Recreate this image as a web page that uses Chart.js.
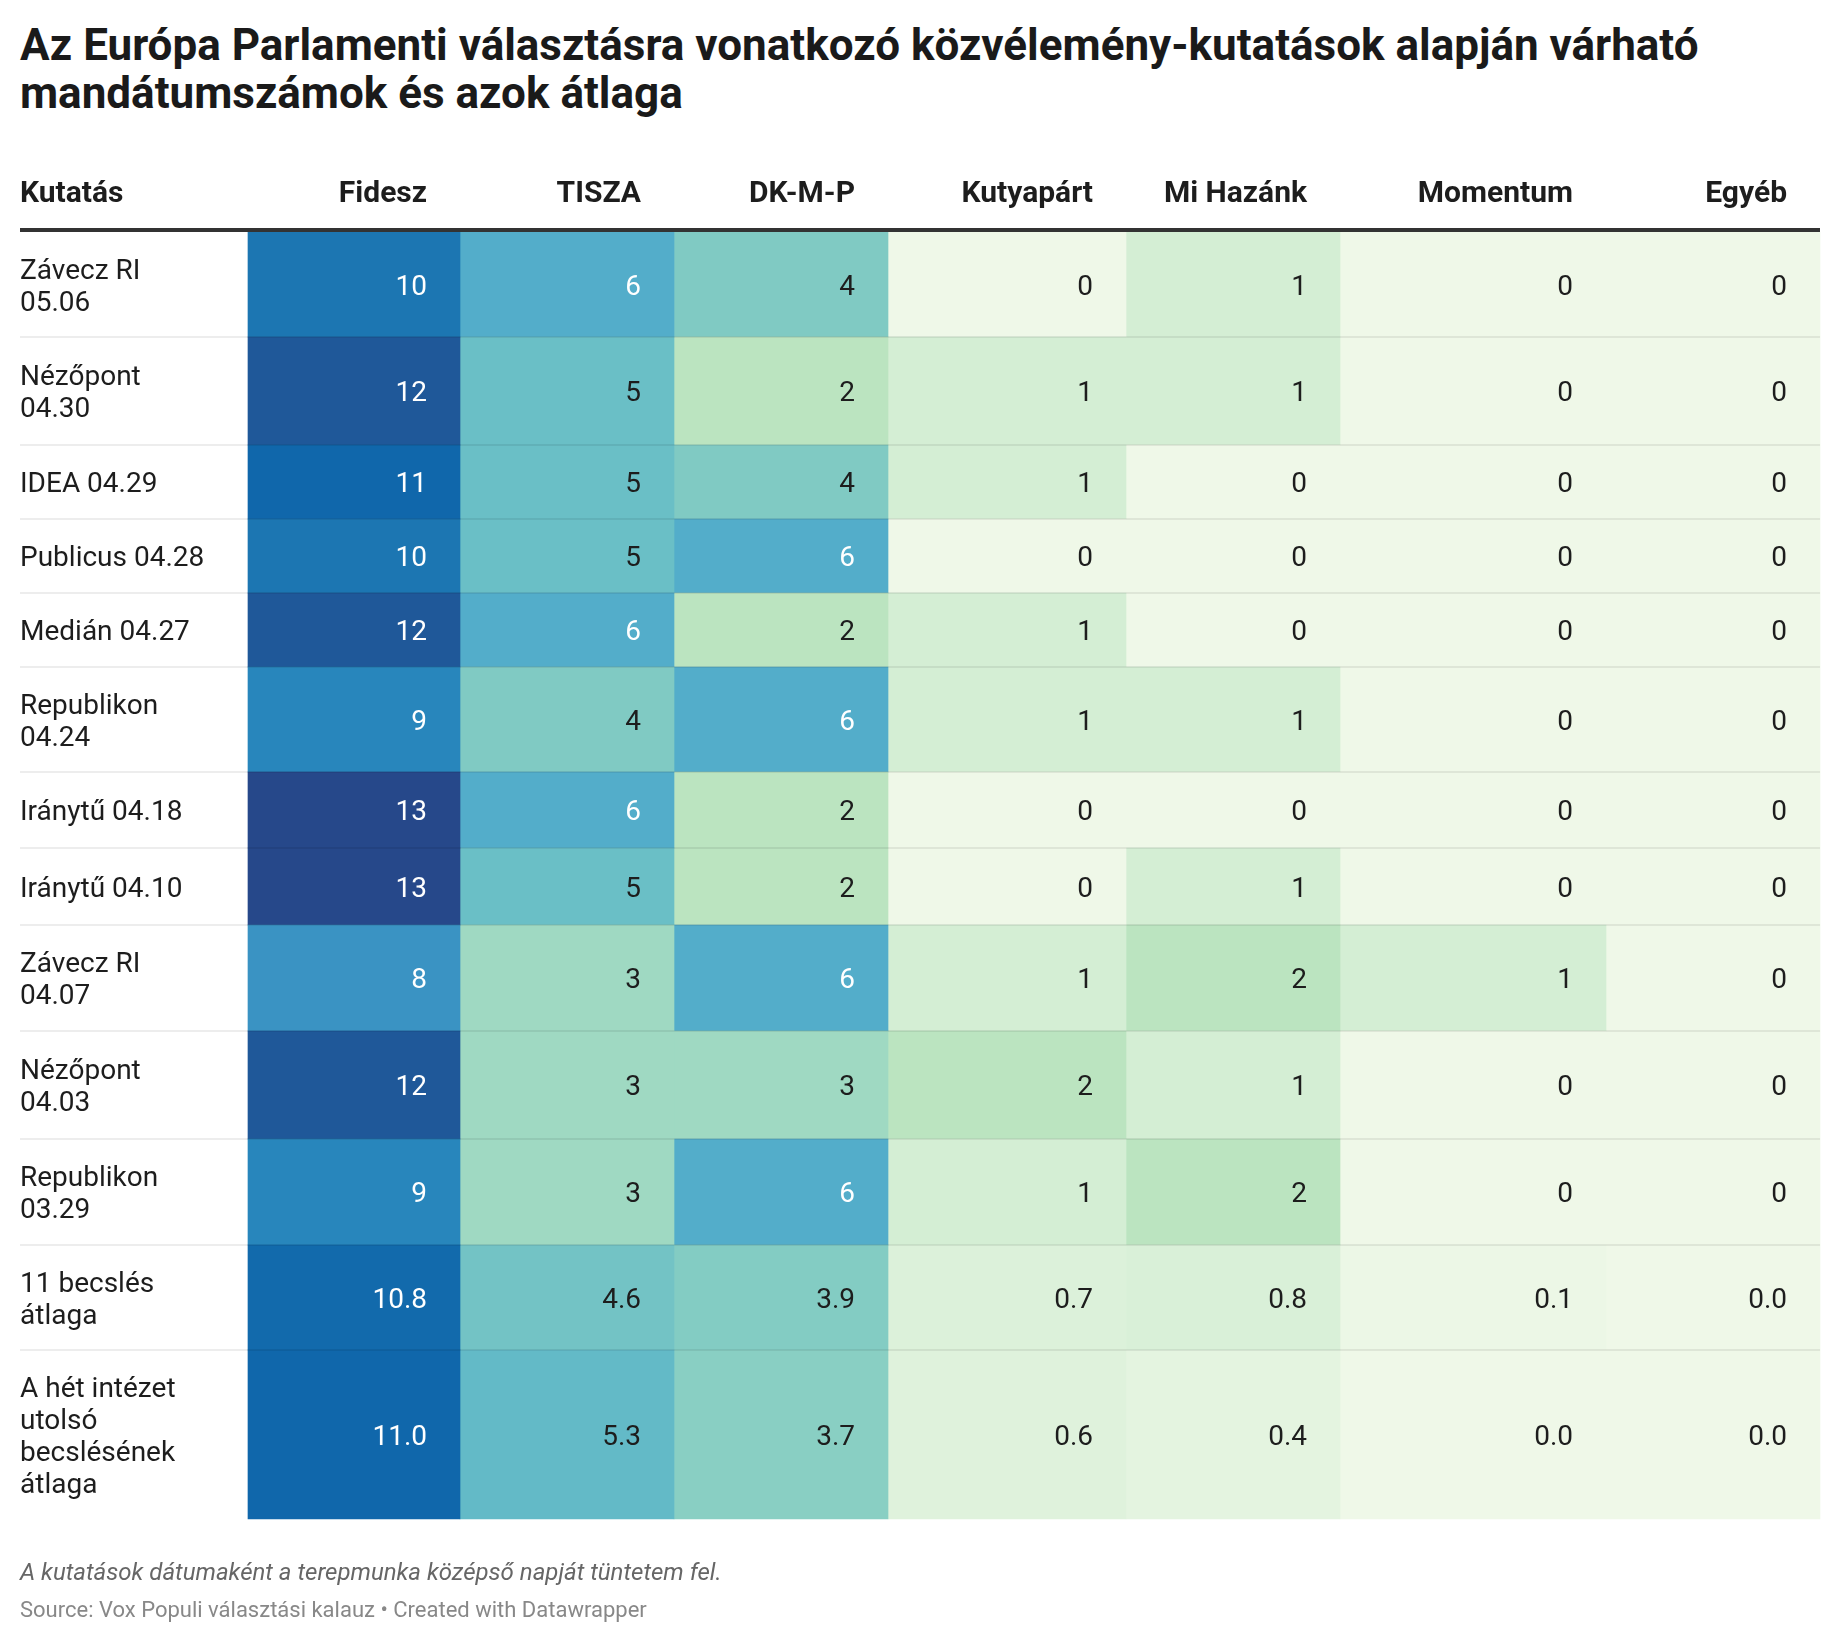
<!DOCTYPE html>
<html>
<head>
<meta charset="utf-8">
<script src="https://cdn.jsdelivr.net/npm/chart.js@4.4.1/dist/chart.umd.min.js"></script>
<style>
  html, body { margin: 0; padding: 0; background: #fff; }
  body { width: 1840px; height: 1644px; position: relative; overflow: hidden; font-family: Roboto, "Noto Sans", sans-serif; }
  #title { position: absolute; left: 20px; top: 21px; margin: 0; font-size: 44px; line-height: 48px; font-weight: 700; color: #1a1a1a; white-space: nowrap; }
  #wrap { position: absolute; left: 0; top: 0; width: 1840px; height: 1644px; }
  .foot { position: absolute; left: 20px; line-height: 1; white-space: nowrap; }
  #note { top: 1560px; font-size: 24px; font-style: italic; color: #666; }
  #source { top: 1599px; font-size: 22px; color: #888; }
</style>
</head>
<body>
<h1 id="title">Az Európa Parlamenti választásra vonatkozó közvélemény-kutatások alapján várható<br>mandátumszámok és azok átlaga</h1>
<div id="wrap"><canvas id="myChart"></canvas></div>
<div class="foot" id="note">A kutatások dátumaként a terepmunka középső napját tüntetem fel.</div>
<div class="foot" id="source">Source: Vox Populi választási kalauz • Created with Datawrapper</div>
<script>
// rows of the table (line breaks as in the original)
var rows = [
    ['Závecz RI', '05.06'],
    ['Nézőpont', '04.30'],
    ['IDEA 04.29'],
    ['Publicus 04.28'],
    ['Medián 04.27'],
    ['Republikon', '04.24'],
    ['Iránytű 04.18'],
    ['Iránytű 04.10'],
    ['Závecz RI', '04.07'],
    ['Nézőpont', '04.03'],
    ['Republikon', '03.29'],
    ['11 becslés', 'átlaga'],
    ['A hét intézet', 'utolsó', 'becslésének', 'átlaga']
];
var parties = ['Fidesz', 'TISZA', 'DK-M-P', 'Kutyapárt', 'Mi Hazánk', 'Momentum', 'Egyéb'];

// seats per poll
var fidesz    = [10, 12, 11, 10, 12, 9, 13, 13, 8, 12, 9, 10.8, 11.0];
var tisza     = [6, 5, 5, 5, 6, 4, 6, 5, 3, 3, 3, 4.6, 5.3];
var dkmp      = [4, 2, 4, 6, 2, 6, 2, 2, 6, 3, 6, 3.9, 3.7];
var kutyapart = [0, 1, 1, 0, 1, 1, 0, 0, 1, 2, 1, 0.7, 0.6];
var mihazank  = [1, 1, 0, 0, 0, 1, 0, 1, 2, 1, 2, 0.8, 0.4];
var momentum  = [0, 0, 0, 0, 0, 0, 0, 0, 1, 0, 0, 0.1, 0.0];
var egyeb     = [0, 0, 0, 0, 0, 0, 0, 0, 0, 0, 0, 0.0, 0.0];
var rowDecimals = [0, 0, 0, 0, 0, 0, 0, 0, 0, 0, 0, 1, 1];

var series = [fidesz, tisza, dkmp, kutyapart, mihazank, momentum, egyeb];

// layout (page pixels)
var tableLeft = 20;
var colEdges = [248, 460, 674, 888, 1126, 1340, 1606, 1820];
var tableTop = 232;
var rowHeights = [105, 108, 74, 74, 74, 105, 76, 77, 106, 108, 106, 105, 169];
var cellPad = 33;
var font = 'Roboto, "Noto Sans", sans-serif';

var rowEdges = [tableTop];
rowHeights.forEach(function (h, i) { rowEdges.push(rowEdges[i] + h); });

// colour scale
var colorStops = [
    [0, '#eff8e8'], [1, '#d4eed4'], [2, '#bbe4c0'], [3, '#9fd9c2'], [4, '#80cac3'],
    [5, '#6abfc6'], [6, '#53adca'], [8, '#3a93c3'], [9, '#2886bc'], [10, '#1c76b2'],
    [11, '#1067ab'], [12, '#1f5899'], [13, '#26488a']
];

function hexToRgb(h) {
    return [parseInt(h.substr(1, 2), 16), parseInt(h.substr(3, 2), 16), parseInt(h.substr(5, 2), 16)];
}

function colorFor(v) {
    for (var i = 0; i < colorStops.length - 1; i++) {
        var a = colorStops[i], b = colorStops[i + 1];
        if (v <= b[0]) {
            var t = Math.max(0, (v - a[0]) / (b[0] - a[0]));
            var ca = hexToRgb(a[1]), cb = hexToRgb(b[1]);
            return 'rgb(' + ca.map(function (c, k) { return Math.round(c + (cb[k] - c) * t); }).join(',') + ')';
        }
    }
    return colorStops[colorStops.length - 1][1];
}

var datasets = parties.map(function (p, c) {
    return {
        label: p,
        data: series[c].map(function (v, r) {
            return { x: (colEdges[c] + colEdges[c + 1]) / 2, y: [rowEdges[r], rowEdges[r + 1]] };
        }),
        backgroundColor: function (ctx) { return colorFor(series[c][ctx.dataIndex]); },
        barThickness: colEdges[c + 1] - colEdges[c],
        grouped: false,
        borderWidth: 0
    };
});

// draws header, rules, row labels and the numbers on top of the cells
var tableText = {
    id: 'tableText',
    afterDatasetsDraw: function (chart) {
        var ctx = chart.ctx;
        var xs = chart.scales.x, ys = chart.scales.y;
        var left = xs.getPixelForValue(tableLeft);
        var right = xs.getPixelForValue(colEdges[colEdges.length - 1]);
        ctx.save();

        // row separators
        ctx.fillStyle = 'rgba(0,0,0,0.07)';
        for (var r = 1; r < rows.length; r++) {
            ctx.fillRect(left, ys.getPixelForValue(rowEdges[r]) - 1, right - left, 2);
        }

        // header rule
        ctx.fillStyle = '#333';
        ctx.fillRect(left, ys.getPixelForValue(tableTop - 4), right - left, 4);

        // header
        ctx.font = 'bold 30px ' + font;
        ctx.fillStyle = '#1d1d1d';
        ctx.textAlign = 'left';
        ctx.fillText('Kutatás', left, ys.getPixelForValue(202));
        ctx.textAlign = 'right';
        parties.forEach(function (p, c) {
            ctx.fillText(p, xs.getPixelForValue(colEdges[c + 1] - cellPad), ys.getPixelForValue(202));
        });

        // row labels
        ctx.font = '28px ' + font;
        ctx.textAlign = 'left';
        rows.forEach(function (lines, r) {
            var mid = (ys.getPixelForValue(rowEdges[r]) + ys.getPixelForValue(rowEdges[r + 1])) / 2;
            var y0 = mid - (lines.length - 1) * 16 + 10;
            lines.forEach(function (l, k) { ctx.fillText(l, left, y0 + k * 32); });
        });

        // values
        ctx.textAlign = 'right';
        chart.data.datasets.forEach(function (ds, c) {
            chart.getDatasetMeta(c).data.forEach(function (bar, i) {
                var v = series[c][i];
                ctx.fillStyle = v > 5.5 ? '#ffffff' : '#1d1d1d';
                ctx.fillText(v.toFixed(rowDecimals[i]), bar.x + bar.width / 2 - cellPad, (bar.y + bar.base) / 2 + 10);
            });
        });
        ctx.restore();
    }
};

var myChart = new Chart(document.getElementById('myChart').getContext('2d'), {
    type: 'bar',
    data: { datasets: datasets },
    options: {
        responsive: true,
        maintainAspectRatio: false,
        animation: false,
        layout: { padding: 0 },
        plugins: { legend: { display: false }, tooltip: { enabled: false } },
        scales: {
            x: { type: 'linear', min: 0, max: 1840, offset: false, display: false },
            y: { type: 'linear', min: 0, max: 1644, reverse: true, display: false }
        }
    },
    plugins: [tableText]
});
</script>
</body>
</html>
